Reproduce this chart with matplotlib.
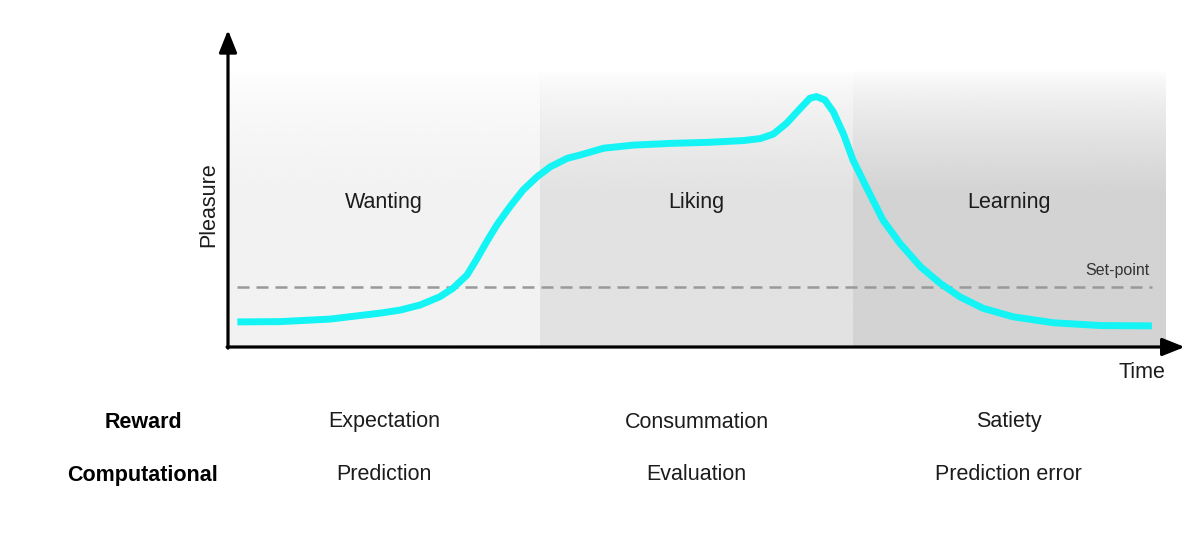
import numpy as np
import matplotlib
matplotlib.use('Agg')
import matplotlib.pyplot as plt
from matplotlib.colors import to_rgb

plt.rcParams['font.family'] = ['Liberation Sans', 'DejaVu Sans']

# Curve (time and pleasure in 0-100 units)
time = [1.0, 5.6, 10.9, 16.2, 18.4, 20.5, 22.6, 24.0, 25.5, 26.5, 27.6, 28.7,
        30.1, 31.5, 33.0, 34.4, 36.2, 37.6, 40.1, 43.3, 47.2, 51.4, 55.0, 56.8,
        58.2, 59.6, 61.1, 62.1, 62.8, 63.7, 64.6, 65.7, 66.7, 68.2, 69.9, 71.7,
        73.9, 76.0, 78.1, 80.6, 83.8, 88.1, 93.1, 98.6]
pleasure = [8.9, 9.0, 9.9, 12.0, 13.1, 14.9, 17.8, 20.8, 25.5, 30.9, 37.3, 43.3,
            49.8, 55.7, 60.4, 63.9, 66.9, 68.1, 70.5, 71.6, 72.2, 72.6, 73.2, 73.9,
            75.5, 79.3, 84.7, 88.2, 88.8, 87.6, 83.4, 75.4, 66.3, 56.2, 45.0, 36.8,
            28.5, 22.6, 17.8, 13.7, 10.7, 8.6, 7.6, 7.5]

set_point = 21.3

phases = ['Wanting', 'Liking', 'Learning']
phase_edges = [0, 33.33, 66.67, 100]
phase_colors = ['#f2f2f2', '#e2e2e2', '#d3d3d3']
reward_row = ['Expectation', 'Consummation', 'Satiety']
computational_row = ['Prediction', 'Evaluation', 'Prediction error']

fig = plt.figure(figsize=(12, 5.6), dpi=100)
ax = fig.add_axes([228 / 1200, 1 - 347 / 560, 937 / 1200, 282 / 560])
ax.set_xlim(0, 100)
ax.set_ylim(0, 100)
ax.axis('off')

txt = '#1c1c1c'
fs = 15.5

# shaded phase backgrounds, fading to white at the top
n = 200
ramp = np.linspace(0, 1, n)  # 0 at top, 1 at bottom
alpha = np.clip(ramp / 0.45, 0, 1) ** 0.7
for i in range(3):
    rgba = np.zeros((n, 2, 4))
    rgba[:, :, :3] = to_rgb(phase_colors[i])
    rgba[:, :, 3] = alpha[:, None]
    ax.imshow(rgba, extent=(phase_edges[i], phase_edges[i + 1], 0, 98.2),
              aspect='auto', origin='upper', zorder=0, interpolation='bilinear')
    mid = (phase_edges[i] + phase_edges[i + 1]) / 2
    ax.text(mid, 51.4, phases[i], ha='center', va='center', fontsize=fs, color=txt)

ax.plot([1.0, 98.6], [set_point, set_point], color='#999999', lw=1.8,
        dashes=(4.8, 2.8), zorder=2)
ax.text(98.4, 27.3, 'Set-point', ha='right', va='center', fontsize=11.5,
        color='#333333')

ax.plot(time, pleasure, color='#14f4f4', lw=5, solid_capstyle='butt',
        solid_joinstyle='round', zorder=3)

# axes with arrows
arrow = dict(arrowstyle='-|>,head_length=0.75,head_width=0.3', lw=2.3,
             color='black', mutation_scale=18, shrinkA=0, shrinkB=0)
ax.annotate('', xy=(1.021, 0), xytext=(-0.001, 0), xycoords='axes fraction',
            arrowprops=arrow, annotation_clip=False)
ax.annotate('', xy=(0, 1.124), xytext=(0, -0.004), xycoords='axes fraction',
            arrowprops=arrow, annotation_clip=False)

ax.text(-0.021, 0.505, 'Pleasure', transform=ax.transAxes, rotation=90,
        ha='center', va='center', fontsize=fs, color=txt)
ax.text(1.0, -0.09, 'Time', transform=ax.transAxes, ha='right', va='center',
        fontsize=fs, color=txt)

# rows under the chart
trans = ax.get_xaxis_transform()
row_y = [(347 - 422) / 282, (347 - 475) / 282]
for i in range(3):
    mid = (phase_edges[i] + phase_edges[i + 1]) / 2
    ax.text(mid, row_y[0], reward_row[i], transform=trans, ha='center',
            va='center', fontsize=fs, color=txt)
    ax.text(mid, row_y[1], computational_row[i], transform=trans, ha='center',
            va='center', fontsize=fs, color=txt)
fig.text(143 / 1200, 1 - 422 / 560, 'Reward', ha='center', va='center',
         fontsize=fs, fontweight='bold')
fig.text(143 / 1200, 1 - 475 / 560, 'Computational', ha='center', va='center',
         fontsize=fs, fontweight='bold')

fig.savefig('out.png', dpi=100, facecolor='white')
